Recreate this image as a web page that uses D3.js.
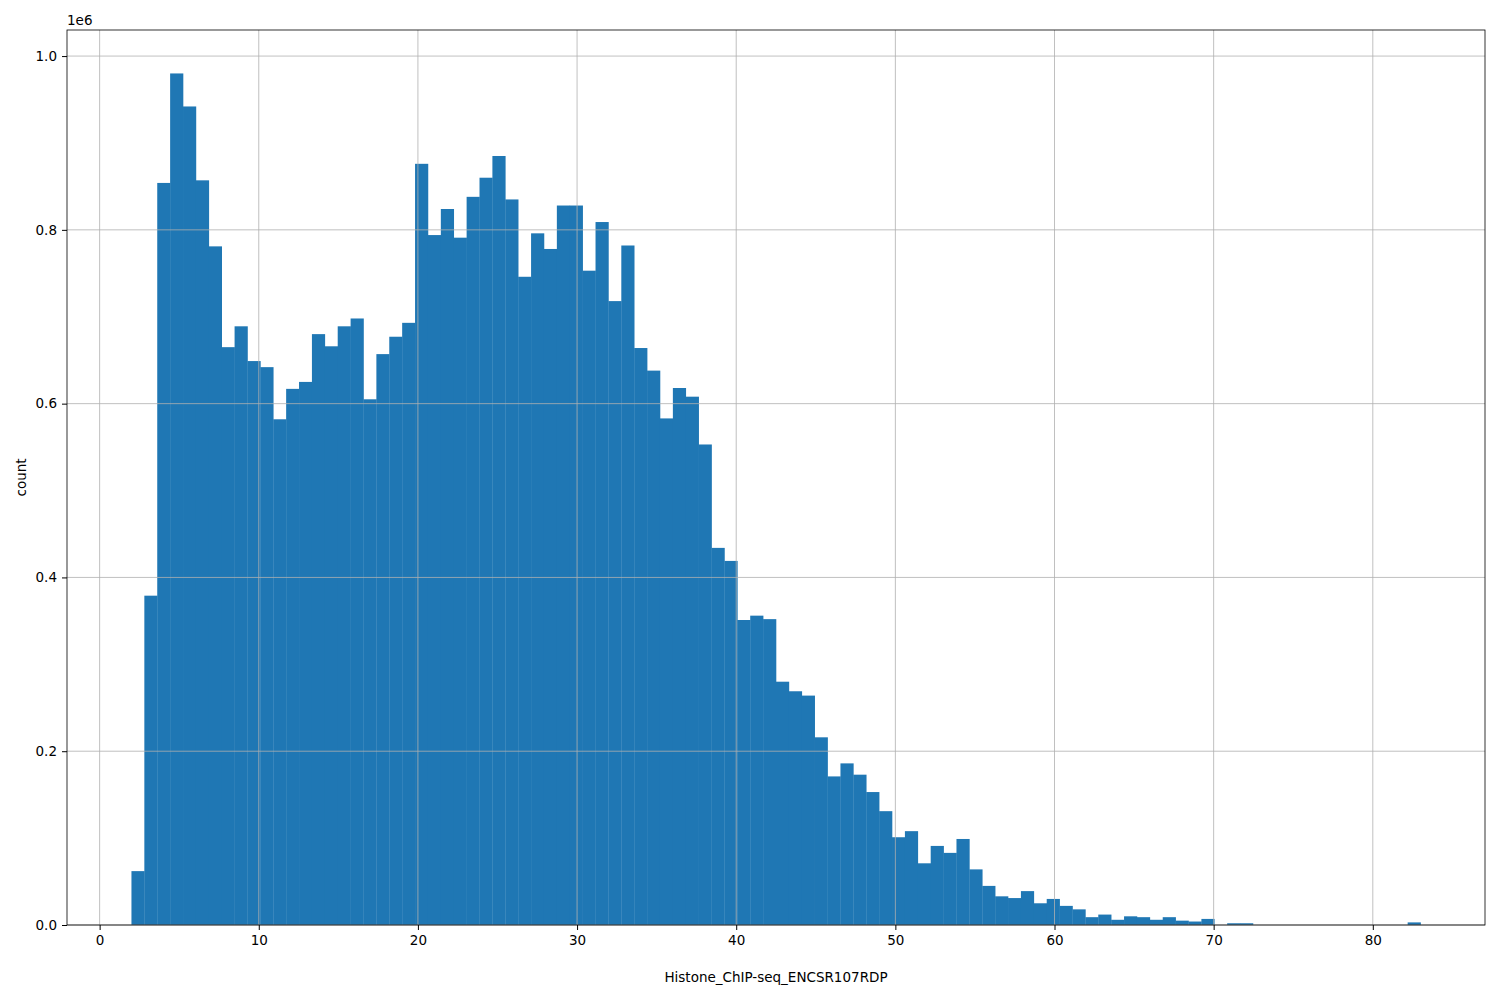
<!DOCTYPE html>
<html><head><meta charset="utf-8">
<script src="https://cdn.jsdelivr.net/npm/d3@7"></script>
<style>body{margin:0;background:#fff}text{font-family:"DejaVu Sans",sans-serif}</style>
</head><body><div id="chart"></div>
<script>
// histogram bins: start 2, width 0.81, 100 bins
var binStart = 2, binWidth = 0.81;
var counts = [0.062,0.379,0.854,0.980,0.942,0.857,0.781,0.665,0.689,0.649,
  0.642,0.582,0.617,0.625,0.680,0.666,0.689,0.698,0.605,0.657,
  0.677,0.693,0.876,0.794,0.824,0.791,0.838,0.860,0.885,0.835,
  0.746,0.796,0.778,0.828,0.828,0.753,0.809,0.718,0.782,0.664,
  0.638,0.583,0.618,0.608,0.553,0.434,0.419,0.351,0.356,0.352,
  0.280,0.269,0.264,0.216,0.171,0.186,0.173,0.153,0.131,0.101,
  0.108,0.071,0.091,0.083,0.099,0.064,0.045,0.033,0.031,0.039,
  0.025,0.030,0.022,0.018,0.009,0.012,0.006,0.010,0.009,0.006,
  0.009,0.005,0.004,0.007,0.000,0.002,0.002,0,0,0,
  0,0,0,0,0,0,0,0,0,0.003];
var xTicks = [0,10,20,30,40,50,60,70,80];
var yTicks = [0,0.2,0.4,0.6,0.8,1.0];

var W = 1500, H = 1000, m = {l:67, r:15, t:30, b:75};
var svg = d3.select("#chart").append("svg").attr("width", W).attr("height", H);
var x = d3.scaleLinear().domain([-2.05, 87.05]).range([m.l, W - m.r]);
var y = d3.scaleLinear().domain([0, 1.03]).range([H - m.b, m.t]);

svg.append("g").selectAll("rect").data(counts).enter().append("rect")
  .attr("x", function(d,i){ return x(binStart + i*binWidth); })
  .attr("width", function(d,i){ return x(binStart + (i+1)*binWidth) - x(binStart + i*binWidth) + 0.3; })
  .attr("y", function(d){ return y(d); })
  .attr("height", function(d){ return y(0) - y(d); })
  .attr("fill", "#1f77b4");

// grid on top
var grid = svg.append("g").attr("stroke", "#b0b0b0").attr("stroke-width", 0.8);
xTicks.forEach(function(t){
  grid.append("line").attr("x1", x(t)).attr("x2", x(t)).attr("y1", m.t).attr("y2", H - m.b);
});
yTicks.forEach(function(t){
  grid.append("line").attr("x1", m.l).attr("x2", W - m.r).attr("y1", y(t)).attr("y2", y(t));
});

var xa = svg.append("g").attr("transform", "translate(0," + (H - m.b) + ")")
  .call(d3.axisBottom(x).tickValues(xTicks).tickSize(5).tickPadding(5).tickFormat(d3.format("d")));
var ya = svg.append("g").attr("transform", "translate(" + m.l + ",0)")
  .call(d3.axisLeft(y).tickValues(yTicks).tickSize(5).tickPadding(5).tickFormat(d3.format(".1f")));
[xa, ya].forEach(function(a){
  a.select(".domain").remove();
  a.selectAll("text").attr("font-size", 13.5).attr("fill", "#000").style("font-family", "DejaVu Sans");
  a.selectAll("line").attr("stroke", "#000");
});
svg.append("rect").attr("x", m.l).attr("y", m.t).attr("width", W - m.r - m.l).attr("height", H - m.b - m.t)
  .attr("fill", "none").attr("stroke", "#000").attr("stroke-width", 0.8);

svg.append("text").attr("x", m.l).attr("y", m.t - 5).attr("font-size", 13.5).text("1e6");
svg.append("text").attr("x", (m.l + W - m.r) / 2).attr("y", 982).attr("text-anchor", "middle")
  .attr("font-size", 13.5).text("Histone_ChIP-seq_ENCSR107RDP");
svg.append("text").attr("transform", "translate(26," + ((m.t + H - m.b) / 2) + ") rotate(-90)")
  .attr("text-anchor", "middle").attr("font-size", 13.5).text("count");
</script></body></html>
